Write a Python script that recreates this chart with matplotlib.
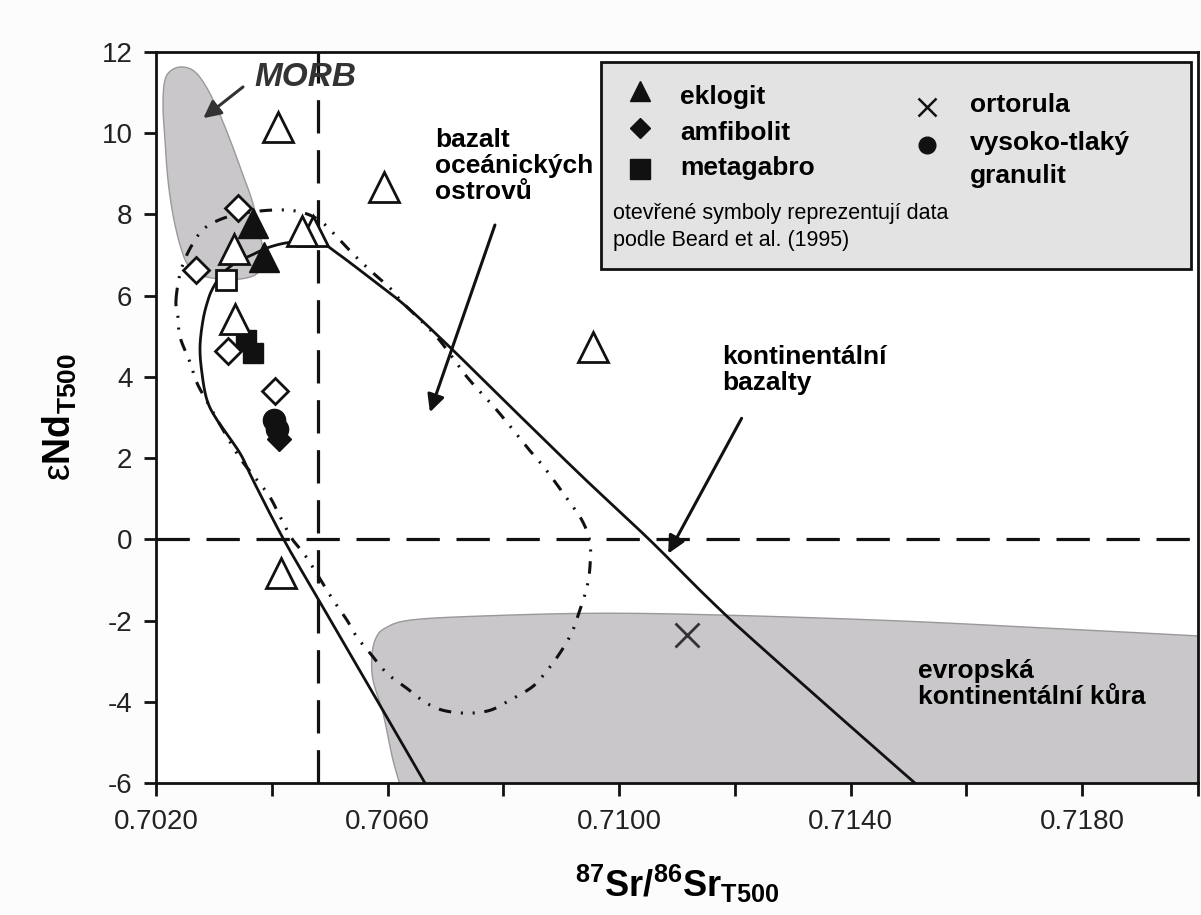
import numpy as np
import matplotlib
matplotlib.use("Agg")
import matplotlib.pyplot as plt
from matplotlib.patches import Polygon, Rectangle

plt.rcParams["font.family"] = ["Liberation Sans", "DejaVu Sans"]
plt.rcParams["axes.unicode_minus"] = False
plt.rcParams["mathtext.fontset"] = "custom"
plt.rcParams["mathtext.rm"] = "Liberation Sans"
plt.rcParams["mathtext.bf"] = "Liberation Sans:bold"
plt.rcParams["mathtext.it"] = "Liberation Sans:italic"
plt.rcParams["lines.scale_dashes"] = False

# --- samples (87Sr/86Sr, eNd at 500 Ma) ---------------------------------
eklogit_sr = [0.70368, 0.70387]
eklogit_nd = [7.80, 6.94]
amfibolit_sr = [0.70412]
amfibolit_nd = [2.46]
metagabro_sr = [0.70355, 0.70367]
metagabro_nd = [4.91, 4.59]
granulit_sr = [0.70403, 0.70409]
granulit_nd = [2.95, 2.72]
ortorula_sr = [0.71117]
ortorula_nd = [-2.36]

# open symbols: Beard et al. (1995)
beard_tri_sr = [0.70472, 0.70411, 0.70594, 0.70453, 0.70335, 0.70336, 0.70955, 0.70416]
beard_tri_nd = [7.60, 10.16, 8.67, 7.60, 7.16, 5.42, 4.74, -0.84]
beard_dia_sr = [0.70341, 0.70269, 0.70325, 0.70406]
beard_dia_nd = [8.17, 6.63, 4.63, 3.65]
beard_sq_sr = [0.70321]
beard_sq_nd = [6.38]

# reference values (CHUR, bulk earth Sr)
chur_nd = 0.0
bulk_sr = 0.7048

# --- fields -------------------------------------------------------------
morb_sr = [0.702466, 0.702674, 0.702881, 0.703105, 0.703313, 0.703503, 0.703658,
           0.703762, 0.703848, 0.703848, 0.703710, 0.703451, 0.703105, 0.702760,
           0.702553, 0.702415, 0.702294, 0.702207, 0.702155, 0.702121, 0.702155,
           0.702276]
morb_nd = [11.63, 11.51, 11.11, 10.45, 9.71, 8.97, 8.35, 7.74, 7.12, 6.75, 6.51,
           6.41, 6.41, 6.51, 6.75, 7.25, 7.99, 8.85, 9.83, 10.69, 11.31, 11.56]

crust_sr = [0.70625, 0.706093, 0.705921, 0.705748, 0.705731, 0.705800, 0.705955,
            0.706387, 0.707596, 0.709668, 0.711914, 0.714850, 0.717440, 0.720000,
            0.7206, 0.7206]
crust_nd = [-6.2, -5.43, -4.28, -3.46, -2.85, -2.43, -2.19, -1.99, -1.89, -1.82,
            -1.87, -2.01, -2.19, -2.38, -2.45, -6.5]

contbas_sr = [0.70672, 0.706646, 0.705748, 0.704781, 0.704193, 0.703675, 0.703451,
              0.703054, 0.702881, 0.702794, 0.702760, 0.702812, 0.702898, 0.702984,
              0.703140, 0.703364, 0.703623, 0.703969, 0.704366, 0.704832, 0.705126,
              0.705748, 0.706335, 0.707078, 0.708235, 0.709375, 0.710532, 0.711516,
              0.712432, 0.715109, 0.71525]
contbas_nd = [-6.2, -6.0, -3.79, -1.42, 0.03, 1.46, 2.12, 2.94, 3.43, 4.09, 4.73,
              5.40, 5.89, 6.19, 6.53, 6.80, 6.98, 7.20, 7.32, 7.30, 7.05, 6.38, 5.72,
              4.73, 3.11, 1.53, -0.02, -1.42, -2.63, -6.0, -6.12]

oib_sr = [0.702345, 0.702432, 0.702622, 0.702864, 0.703278, 0.703762, 0.704228,
          0.704573, 0.704867, 0.705143, 0.705437, 0.705748, 0.706041, 0.706266,
          0.706853, 0.707371, 0.707889, 0.708408, 0.708718, 0.709081, 0.709358,
          0.709496, 0.709496, 0.709444, 0.709323, 0.709185, 0.708978, 0.708718,
          0.708494, 0.708114, 0.707769, 0.707371, 0.706957, 0.706646, 0.706335,
          0.705990, 0.705696, 0.705472, 0.705299, 0.705040, 0.704608, 0.704366,
          0.704193, 0.703969, 0.703744, 0.703451, 0.703140, 0.702898, 0.702708,
          0.702587, 0.702415, 0.702380]
oib_nd = [5.89, 6.63, 7.25, 7.69, 7.96, 8.08, 8.11, 8.03, 7.81, 7.42, 6.98, 6.56,
          6.19, 5.82, 4.98, 4.00, 3.18, 2.27, 1.75, 1.04, 0.47, -0.07, -0.68, -1.18,
          -1.74, -2.29, -2.80, -3.30, -3.64, -3.96, -4.21, -4.28, -4.21, -4.01,
          -3.67, -3.30, -2.80, -2.41, -1.99, -1.45, -0.46, -0.02, 0.42, 1.04, 1.46,
          2.00, 2.74, 3.35, 3.85, 4.36, 4.98, 5.47]


def catmull_rom(xs, ys, closed=False, n=16):
    """Smooth curve through the given vertices (uniform Catmull-Rom)."""
    p = np.column_stack([xs, ys]).astype(float)
    if closed:
        pts = np.vstack([p[-1], p, p[0], p[1]])
    else:
        pts = np.vstack([p[0], p, p[-1]])
    out = []
    t = np.linspace(0, 1, n, endpoint=False)[:, None]
    for i in range(1, len(pts) - 2):
        p0, p1, p2, p3 = pts[i - 1], pts[i], pts[i + 1], pts[i + 2]
        seg = 0.5 * ((2 * p1) + (-p0 + p2) * t + (2 * p0 - 5 * p1 + 4 * p2 - p3) * t ** 2
                     + (-p0 + 3 * p1 - 3 * p2 + p3) * t ** 3)
        out.append(seg)
    out.append(pts[-2][None, :])
    c = np.vstack(out)
    return c[:, 0], c[:, 1]


fig = plt.figure(figsize=(12.01, 9.15), dpi=100)
fig.patch.set_facecolor("#fcfcfc")
ax = fig.add_axes([0.12989, 0.14426, 0.86761, 0.79891])
ax.set_facecolor("white")
ax.set_xlim(0.702, 0.720)
ax.set_ylim(-6, 12)

field_fc = "#c9c7c9"
field_ec = "#9a989a"

mx, my = catmull_rom(morb_sr, morb_nd, closed=True)
ax.add_patch(Polygon(np.column_stack([mx, my]), closed=True, fc=field_fc,
                     ec=field_ec, lw=1.0, zorder=1))
cx, cy = catmull_rom(crust_sr, crust_nd, closed=False, n=10)
ax.add_patch(Polygon(np.column_stack([cx, cy]), closed=True, fc=field_fc,
                     ec=field_ec, lw=1.0, zorder=1))

# reference lines
ax.axhline(chur_nd, color="#111111", lw=2.3, dashes=(24, 12), zorder=2)
ax.axvline(bulk_sr, color="#111111", lw=2.3, dashes=(24, 12), zorder=2)

# continental basalts (solid) and ocean island basalts (dash-dot-dot)
bx, by = catmull_rom(contbas_sr, contbas_nd)
ax.plot(bx, by, color="#111111", lw=2.0, zorder=3)
ox, oy = catmull_rom(oib_sr, oib_nd, closed=True)
ax.plot(ox, oy, color="#111111", lw=2.2, dashes=(9, 7, 1.5, 7, 1.5, 7), zorder=3)

# samples: filled symbols first, open symbols on top
ax.plot(eklogit_sr, eklogit_nd, ls="none", marker="^", ms=21, mfc="#111111",
        mec="#111111", zorder=5)
ax.plot(metagabro_sr, metagabro_nd, ls="none", marker="s", ms=15, mfc="#111111",
        mec="#111111", zorder=5)
ax.plot(granulit_sr, granulit_nd, ls="none", marker="o", ms=16, mfc="#111111",
        mec="#111111", zorder=5)
ax.plot(amfibolit_sr, amfibolit_nd, ls="none", marker="D", ms=12, mfc="#111111",
        mec="#111111", zorder=5)
ax.plot(ortorula_sr, ortorula_nd, ls="none", marker="x", ms=17, mew=2.0,
        color="#333333", zorder=5)

open_kw = dict(ls="none", mfc="white", mec="#111111", mew=2.0, zorder=6)
ax.plot(beard_tri_sr, beard_tri_nd, marker="^", ms=21, **open_kw)
ax.plot(beard_dia_sr, beard_dia_nd, marker="D", ms=13, **open_kw)
ax.plot(beard_sq_sr, beard_sq_nd, marker="s", ms=15, **open_kw)

# annotations
ax.text(0.704573, 11.38, "MORB", fontsize=24, fontweight="bold", fontstyle="italic",
        color="#333333", ha="center", va="center", zorder=7)
ax.annotate("", xy=(0.702817, 10.37), xytext=(0.703503, 11.14),
            arrowprops=dict(arrowstyle="-|>", color="#333333", lw=2.2,
                            mutation_scale=26, shrinkA=0, shrinkB=0), zorder=7)

ax.text(0.706819, 10.12, "bazalt\noceánických\nostrovů", fontsize=19,
        fontweight="bold", ha="left", va="top", linespacing=1.1, zorder=7)
ax.annotate("", xy=(0.706732, 3.13), xytext=(0.707855, 7.74),
            arrowprops=dict(arrowstyle="-|>", color="#111111", lw=2.2,
                            mutation_scale=26, shrinkA=0, shrinkB=0), zorder=7)

ax.text(0.711775, 4.78, "kontinentální\nbazalty", fontsize=19, fontweight="bold",
        ha="left", va="top", linespacing=1.1, zorder=7)
ax.annotate("", xy=(0.710848, -0.35), xytext=(0.712116, 2.98),
            arrowprops=dict(arrowstyle="-|>", color="#111111", lw=2.2,
                            mutation_scale=26, shrinkA=0, shrinkB=0), zorder=7)

ax.text(0.715161, -2.95, "evropská\nkontinentální kůra", fontsize=19,
        fontweight="bold", ha="left", va="top", linespacing=1.1, zorder=7)

# key box
tA = ax.transAxes
ax.add_patch(Rectangle((0.4271, 0.7031), 0.5662, 0.2832, transform=tA,
                       fc="#e3e3e3", ec="#111111", lw=2.0, zorder=8))
key_kw = dict(transform=tA, ls="none", color="#111111", zorder=9, clip_on=False)
ax.plot([0.4645], [0.9466], marker="^", ms=15, **key_kw)
ax.plot([0.4645], [0.8960], marker="D", ms=10, **key_kw)
ax.plot([0.4645], [0.8393], marker="s", ms=14, **key_kw)
ax.plot([0.7399], [0.9248], marker="x", ms=13, mew=1.8, **key_kw)
ax.plot([0.7399], [0.8728], marker="o", ms=12, **key_kw)
txt_kw = dict(transform=tA, fontsize=19, fontweight="bold", ha="left",
              va="center", zorder=9)
ax.text(0.5029, 0.9384, "eklogit", **txt_kw)
ax.text(0.5029, 0.8892, "amfibolit", **txt_kw)
ax.text(0.5029, 0.8413, "metagabro", **txt_kw)
ax.text(0.7812, 0.9275, "ortorula", **txt_kw)
ax.text(0.7812, 0.8755, "vysoko-tlaký", **txt_kw)
ax.text(0.7812, 0.8304, "granulit", **txt_kw)
ax.text(0.4386, 0.7784, "otevřené symboly reprezentují data", transform=tA,
        fontsize=15.5, ha="left", va="center", zorder=9)
ax.text(0.4386, 0.7415, "podle Beard et al. (1995)", transform=tA,
        fontsize=15.5, ha="left", va="center", zorder=9)

# axes styling
for s in ax.spines.values():
    s.set_linewidth(2.0)
    s.set_color("#111111")
xt = np.arange(0.702, 0.72001, 0.002)
ax.set_xticks(xt)
ax.set_xticklabels(["%.4f" % v if i % 2 == 0 else "" for i, v in enumerate(xt)])
yt = np.arange(-6, 13, 2)
ax.set_yticks(yt)
ax.set_yticklabels(["%d" % v for v in yt])
ax.tick_params(axis="both", direction="out", length=9, width=2.0, color="#111111",
               labelsize=20, labelcolor="#222222")
ax.tick_params(axis="x", pad=10)
ax.tick_params(axis="y", pad=8)

ax.set_xlabel(r"$\mathbf{^{87}Sr/^{86}Sr_{T500}}$", fontsize=26, labelpad=20)
ax.set_ylabel(r"$\mathrm{ε}\mathbf{Nd_{T500}}$", fontsize=27, labelpad=16)

fig.savefig("out.png", dpi=100, facecolor=fig.get_facecolor())
